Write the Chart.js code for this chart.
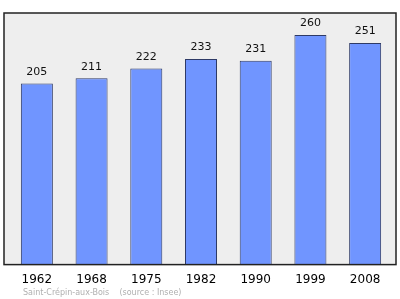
<!DOCTYPE html>
<html>
<head>
<meta charset="utf-8">
<script src="https://cdn.jsdelivr.net/npm/chart.js@4/dist/chart.umd.min.js"></script>
<style>
  html, body { margin: 0; padding: 0; background: #fff; }
  #wrap { width: 400px; height: 299px; }
</style>
</head>
<body>
<div id="wrap"><canvas id="popChart" width="400" height="299"></canvas></div>
<script>
// Population by census year
const years = ['1962', '1968', '1975', '1982', '1990', '1999', '2008'];
const population = [205, 211, 222, 233, 231, 260, 251];
const footerText = 'Saint-Crépin-aux-Bois    (source : Insee)';

// grey frame behind the bars
const framePlugin = {
    id: 'frame',
    beforeDatasetsDraw(chart) {
        const { ctx, chartArea } = chart;
        const l = chartArea.left - 5.5, r = chartArea.right + 3.5;
        ctx.save();
        ctx.fillStyle = '#eeeeee';
        ctx.fillRect(l, chartArea.top, r - l, chartArea.bottom - chartArea.top);
        ctx.restore();
    },
    afterDatasetsDraw(chart) {
        const { ctx, chartArea } = chart;
        const l = chartArea.left - 5.5, r = chartArea.right + 3.5;
        ctx.save();
        ctx.strokeStyle = '#222222';
        ctx.lineWidth = 1.5;
        ctx.strokeRect(l, chartArea.top, r - l, chartArea.bottom - chartArea.top);
        ctx.restore();
    }
};

// numbers above each bar + source line
const labelPlugin = {
    id: 'valueLabels',
    afterDraw(chart) {
        const { ctx } = chart;
        const meta = chart.getDatasetMeta(0);
        ctx.save();
        ctx.fillStyle = '#111';
        ctx.font = '11px "DejaVu Sans"';
        ctx.textAlign = 'center';
        ctx.textBaseline = 'middle';
        meta.data.forEach((bar, i) => {
            ctx.fillText(population[i], bar.x, bar.y - 11.5);
        });
        ctx.fillStyle = '#b0b0b0';
        ctx.font = '8px "DejaVu Sans"';
        ctx.textAlign = 'left';
        ctx.fillText(footerText, 23, 293);
        ctx.restore();
    }
};

new Chart(document.getElementById('popChart'), {
    type: 'bar',
    data: {
        labels: years,
        datasets: [{
            data: population,
            backgroundColor: '#7095ff',
            borderColor: '#2e3a66',
            borderWidth: 1,
            categoryPercentage: 1,
            barPercentage: 0.585
        }]
    },
    options: {
        responsive: false,
        animation: false,
        layout: { padding: { left: 9.5, right: 7.5, top: 13, bottom: 4 } },
        plugins: {
            legend: { display: false },
            tooltip: { enabled: false }
        },
        scales: {
            x: {
                grid: { display: false, drawTicks: false },
                border: { display: false },
                ticks: {
                    color: '#000',
                    font: { family: 'DejaVu Sans', size: 12 },
                    padding: 8,
                    maxRotation: 0
                }
            },
            y: {
                display: false,
                min: 0,
                max: 285
            }
        }
    },
    plugins: [framePlugin, labelPlugin]
});
</script>
</body>
</html>
